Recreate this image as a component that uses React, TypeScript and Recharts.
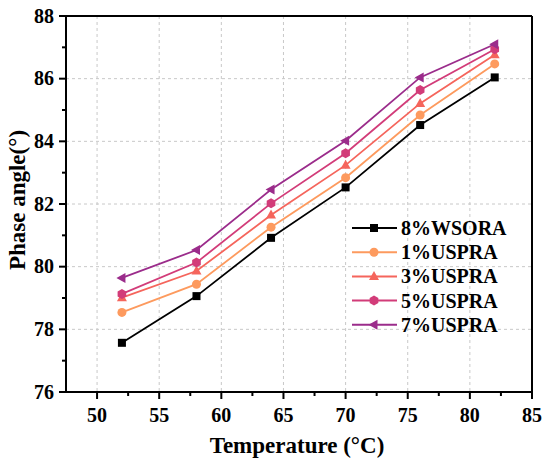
import React from "react";
import {
    LineChart,
    Line,
    XAxis,
    YAxis,
    CartesianGrid,
    Legend,
    ReferenceLine
} from "recharts";

// values
const temperatures = [52, 58, 64, 70, 76, 82];
const wsora8 = [77.57, 79.06, 80.92, 82.53, 84.52, 86.04];
const uspra1 = [78.54, 79.44, 81.26, 82.84, 84.84, 86.47];
const uspra3 = [79.01, 79.86, 81.65, 83.24, 85.21, 86.76];
const uspra5 = [79.13, 80.13, 82.02, 83.62, 85.64, 86.94];
const uspra7 = [79.64, 80.53, 82.46, 84.02, 86.04, 87.1];

const xTicks = [50, 52.5, 55, 57.5, 60, 62.5, 65, 67.5, 70, 72.5, 75, 77.5, 80, 82.5, 85];
const yTicks = [76, 77, 78, 79, 80, 81, 82, 83, 84, 85, 86, 87, 88];
const xGrid = [50, 55, 60, 65, 70, 75, 80];
const yGrid = [78, 80, 82, 84, 86];

const series = [
    { key: "w8", name: "8%WSORA", color: "#000000", shape: "square", values: wsora8 },
    { key: "u1", name: "1%USPRA", color: "#FD9A5E", shape: "circle", values: uspra1 },
    { key: "u3", name: "3%USPRA", color: "#F5655C", shape: "triangle", values: uspra3 },
    { key: "u5", name: "5%USPRA", color: "#D23C79", shape: "hexagon", values: uspra5 },
    { key: "u7", name: "7%USPRA", color: "#9B2C8B", shape: "left", values: uspra7 }
];

const data = temperatures.map((t, i) => {
    const row: any = { t };
    series.forEach((s) => (row[s.key] = s.values[i]));
    return row;
});

const font = "'Liberation Serif', 'Times New Roman', serif";
const textStyle = { fontFamily: font, fontWeight: 700 };

function marker(shape: string, cx: number, cy: number, color: string, key?: any) {
    if (shape === "square") {
        return <rect key={key} x={cx - 4} y={cy - 4} width={8} height={8} fill={color} />;
    }
    if (shape === "circle") {
        return <circle key={key} cx={cx} cy={cy} r={4.5} fill={color} />;
    }
    if (shape === "triangle") {
        return (
            <polygon
                key={key}
                points={`${cx},${cy - 5.5} ${cx + 5},${cy + 3.5} ${cx - 5},${cy + 3.5}`}
                fill={color}
            />
        );
    }
    if (shape === "hexagon") {
        const pts = [0, 1, 2, 3, 4, 5]
            .map((k) => {
                const a = (Math.PI / 3) * k - Math.PI / 2;
                return `${cx + 5 * Math.cos(a)},${cy + 5 * Math.sin(a)}`;
            })
            .join(" ");
        return <polygon key={key} points={pts} fill={color} />;
    }
    return (
        <polygon
            key={key}
            points={`${cx - 5.5},${cy} ${cx + 3.5},${cy - 5} ${cx + 3.5},${cy + 5}`}
            fill={color}
        />
    );
}

const renderXTick = (props: any) => {
    const { x, y, payload, index } = props;
    const major = payload.value % 5 === 0;
    return (
        <g key={`xt-${index}`}>
            <line x1={x} x2={x} y1={y} y2={y + (major ? 7 : 4)} stroke="#000" strokeWidth={2} />
            {major && (
                <text x={x} y={y + 30} textAnchor="middle" style={textStyle} fontSize={20} fill="#000">
                    {payload.value}
                </text>
            )}
        </g>
    );
};

const renderYTick = (props: any) => {
    const { x, y, payload, index } = props;
    const major = payload.value % 2 === 0;
    return (
        <g key={`yt-${index}`}>
            <line x1={x} x2={x - (major ? 7 : 4)} y1={y} y2={y} stroke="#000" strokeWidth={2} />
            {major && (
                <text x={x - 12} y={y + 6.5} textAnchor="end" style={textStyle} fontSize={20} fill="#000">
                    {payload.value}
                </text>
            )}
        </g>
    );
};

const renderLegend = () => (
    <svg width={170} height={126}>
        {series.map((s, i) => {
            const cy = 14 + i * 24.2;
            return (
                <g key={s.key}>
                    <line x1={4} x2={49} y1={cy} y2={cy} stroke={s.color} strokeWidth={2} />
                    {marker(s.shape, 26, cy, s.color)}
                    <text x={53} y={cy + 7} style={textStyle} fontSize={20} fill="#000">
                        {s.name}
                    </text>
                </g>
            );
        })}
    </svg>
);

export default function App() {
    return (
        <div style={{ position: "absolute", left: 0, top: 0, background: "#fff", fontFamily: font }}>
            <LineChart
                width={550}
                height={466}
                data={data}
                margin={{ top: 16, right: 18, bottom: 0, left: 0 }}
            >
                <CartesianGrid
                    stroke="#c8c8c8"
                    strokeDasharray="3 3"
                    verticalValues={xGrid}
                    horizontalValues={yGrid}
                />
                <XAxis
                    dataKey="t"
                    type="number"
                    domain={[47.5, 85]}
                    ticks={xTicks}
                    interval={0}
                    height={74}
                    tickSize={0}
                    tickMargin={0}
                    tickLine={false}
                    tick={renderXTick}
                    axisLine={{ stroke: "#000", strokeWidth: 2 }}
                    label={{
                        content: (p: any) => (
                            <text
                                x={p.viewBox.x + p.viewBox.width / 2 - 2}
                                y={p.viewBox.y + 61}
                                textAnchor="middle"
                                style={textStyle}
                                fontSize={23}
                                fill="#000"
                            >
                                Temperature (°C)
                            </text>
                        )
                    }}
                />
                <YAxis
                    type="number"
                    domain={[76, 88]}
                    ticks={yTicks}
                    interval={0}
                    width={66}
                    tickSize={0}
                    tickMargin={0}
                    tickLine={false}
                    tick={renderYTick}
                    axisLine={{ stroke: "#000", strokeWidth: 2 }}
                    label={{
                        content: (p: any) => {
                            const x = p.viewBox.x + 25;
                            const y = p.viewBox.y + p.viewBox.height / 2 - 4;
                            return (
                                <text
                                    x={x}
                                    y={y}
                                    transform={`rotate(-90, ${x}, ${y})`}
                                    textAnchor="middle"
                                    style={textStyle}
                                    fontSize={23}
                                    fill="#000"
                                >
                                    Phase angle(°)
                                </text>
                            );
                        }
                    }}
                />
                <ReferenceLine y={88} stroke="#000" strokeWidth={2} />
                <ReferenceLine x={85} stroke="#000" strokeWidth={2} />
                <Legend
                    layout="horizontal"
                    verticalAlign="middle"
                    align="center"
                    content={renderLegend}
                    wrapperStyle={{ top: 214, left: 348, width: 170, height: 126 }}
                />
                {series.map((s) => (
                    <Line
                        key={s.key}
                        dataKey={s.key}
                        name={s.name}
                        stroke={s.color}
                        strokeWidth={1.8}
                        isAnimationActive={false}
                        dot={(p: any) => marker(s.shape, p.cx, p.cy, s.color, p.key ?? p.index)}
                        activeDot={false}
                    />
                ))}
            </LineChart>
        </div>
    );
}
